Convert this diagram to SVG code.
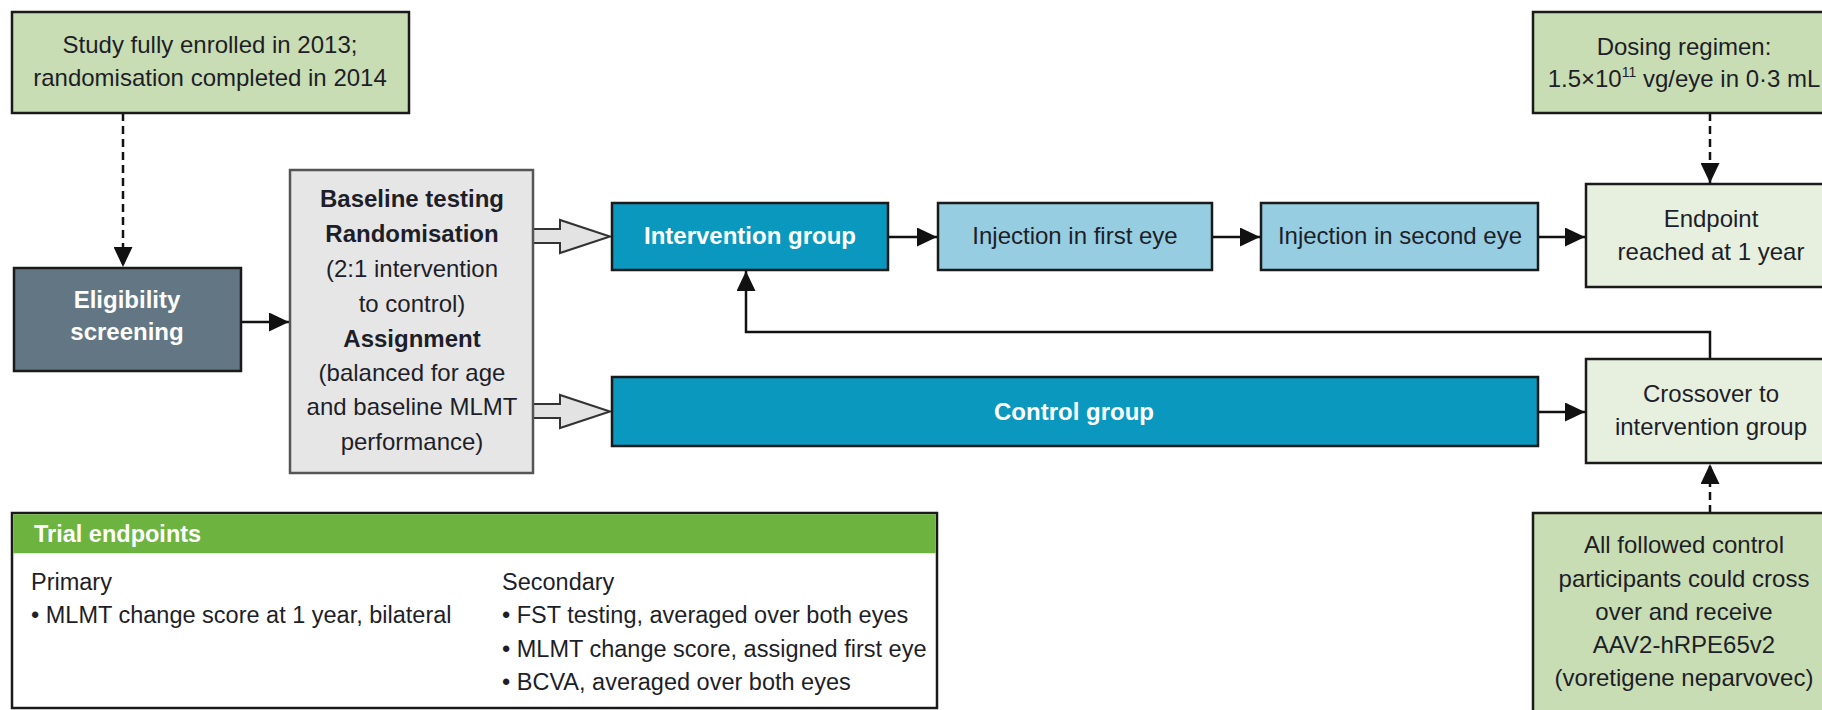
<svg xmlns="http://www.w3.org/2000/svg" width="1822" height="710" viewBox="0 0 1822 710">
<style>
  .t { font-family: "Liberation Sans", Arial, sans-serif; font-size: 24px; fill: #1e1e28; text-anchor: middle; }
  .b { font-weight: bold; }
  .w { fill: #ffffff; }
  .l { text-anchor: start; font-size: 23.5px; }
  .box { stroke: #1a1a1a; stroke-width: 2.5; }
  .note { fill: #c8ddb3; }
  .pale { fill: #e7f0de; }
  .gray { fill: #e6e6e6; stroke: #555; stroke-width: 2.5; }
  .blue { fill: #0a98bf; }
  .lblue { fill: #96cde0; }
  .slate { fill: #627783; }
  .con { fill: none; stroke: #111; stroke-width: 2.5; }
  .dash { stroke-dasharray: 8 5; }
  .hollow { fill: #e3e3e3; stroke: #333; stroke-width: 2; stroke-linejoin: miter; }
</style>
<defs>
  <marker id="arr" markerUnits="userSpaceOnUse" markerWidth="20" markerHeight="19" refX="20" refY="9.5" orient="auto">
    <path d="M0,0 L20,9.5 L0,19 z" fill="#111"/>
  </marker>
</defs>
<rect width="1822" height="710" fill="#ffffff"/>

<g id="connectors">
  <path class="con dash" d="M123,113 V267" marker-end="url(#arr)"/>
  <path class="con" d="M241,322 H289" marker-end="url(#arr)"/>
  <polygon class="hollow" points="533,229 560,229 560,220 610,236.5 560,253 560,243 533,243"/>
  <polygon class="hollow" points="533,404 560,404 560,395 610,411.5 560,428 560,418 533,418"/>
  <path class="con" d="M888,237 H937" marker-end="url(#arr)"/>
  <path class="con" d="M1212,237 H1260" marker-end="url(#arr)"/>
  <path class="con" d="M1538,237 H1585" marker-end="url(#arr)"/>
  <path class="con dash" d="M1710,113 V183" marker-end="url(#arr)"/>
  <path class="con" d="M1538,412 H1585" marker-end="url(#arr)"/>
  <path class="con" d="M1710,359 V332 H746 V271" marker-end="url(#arr)"/>
  <path class="con dash" d="M1710,513 V464" marker-end="url(#arr)"/>
</g>

<g id="study">
  <rect class="box note" x="12" y="12" width="397" height="101"/>
  <text class="t" x="210" y="53">Study fully enrolled in 2013;</text>
  <text class="t" x="210" y="86">randomisation completed in 2014</text>
</g>

<g id="eligibility">
  <rect class="box slate" x="14" y="268" width="227" height="103"/>
  <text class="t b w" x="127" y="308">Eligibility</text>
  <text class="t b w" x="127" y="340">screening</text>
</g>

<g id="randomisation">
  <rect class="gray" x="290" y="170" width="243" height="303"/>
  <text class="t b" x="412" y="207">Baseline testing</text>
  <text class="t b" x="412" y="242">Randomisation</text>
  <text class="t" x="412" y="277">(2:1 intervention</text>
  <text class="t" x="412" y="312">to control)</text>
  <text class="t b" x="412" y="347">Assignment</text>
  <text class="t" x="412" y="381">(balanced for age</text>
  <text class="t" x="412" y="415">and baseline MLMT</text>
  <text class="t" x="412" y="450">performance)</text>
</g>

<g id="intervention">
  <rect class="box blue" x="612" y="203" width="276" height="67"/>
  <text class="t b w" x="750" y="244">Intervention group</text>
</g>

<g id="inj1">
  <rect class="box lblue" x="938" y="203" width="274" height="67"/>
  <text class="t" x="1075" y="244">Injection in first eye</text>
</g>

<g id="inj2">
  <rect class="box lblue" x="1261" y="203" width="277" height="67"/>
  <text class="t" x="1400" y="244">Injection in second eye</text>
</g>

<g id="endpoint">
  <rect class="box pale" x="1586" y="184" width="252" height="103"/>
  <text class="t" x="1711" y="227">Endpoint</text>
  <text class="t" x="1711" y="260">reached at 1 year</text>
</g>

<g id="dosing">
  <rect class="box note" x="1533" y="12" width="305" height="101"/>
  <text class="t" x="1684" y="55">Dosing regimen:</text>
  <text class="t" x="1684" y="87">1.5×10<tspan font-size="14" dy="-10">11</tspan><tspan dy="10"> vg/eye in 0·3 mL</tspan></text>
</g>

<g id="control">
  <rect class="box blue" x="612" y="377" width="926" height="69"/>
  <text class="t b w" x="1074" y="420">Control group</text>
</g>

<g id="crossover">
  <rect class="box pale" x="1586" y="359" width="252" height="104"/>
  <text class="t" x="1711" y="402">Crossover to</text>
  <text class="t" x="1711" y="435">intervention group</text>
</g>

<g id="allfollowed">
  <rect class="box note" x="1533" y="513" width="305" height="210"/>
  <text class="t" x="1684" y="553">All followed control</text>
  <text class="t" x="1684" y="587">participants could cross</text>
  <text class="t" x="1684" y="620">over and receive</text>
  <text class="t" x="1684" y="653">AAV2-hRPE65v2</text>
  <text class="t" x="1684" y="686">(voretigene neparvovec)</text>
</g>

<g id="endpoints">
  <rect x="12" y="513" width="925" height="195" fill="#ffffff" stroke="#1a1a1a" stroke-width="2.5"/>
  <rect x="13.25" y="514.25" width="922.5" height="39" fill="#6db33f"/>
  <text class="t b w l" x="34" y="542" font-size="23">Trial endpoints</text>
  <text class="t l" x="31" y="590" font-size="24">Primary</text>
  <text class="t l" x="31" y="623">• MLMT change score at 1 year, bilateral</text>
  <text class="t l" x="502" y="590" font-size="24">Secondary</text>
  <text class="t l" x="502" y="623">• FST testing, averaged over both eyes</text>
  <text class="t l" x="502" y="657">• MLMT change score, assigned first eye</text>
  <text class="t l" x="502" y="690">• BCVA, averaged over both eyes</text>
</g>
</svg>
